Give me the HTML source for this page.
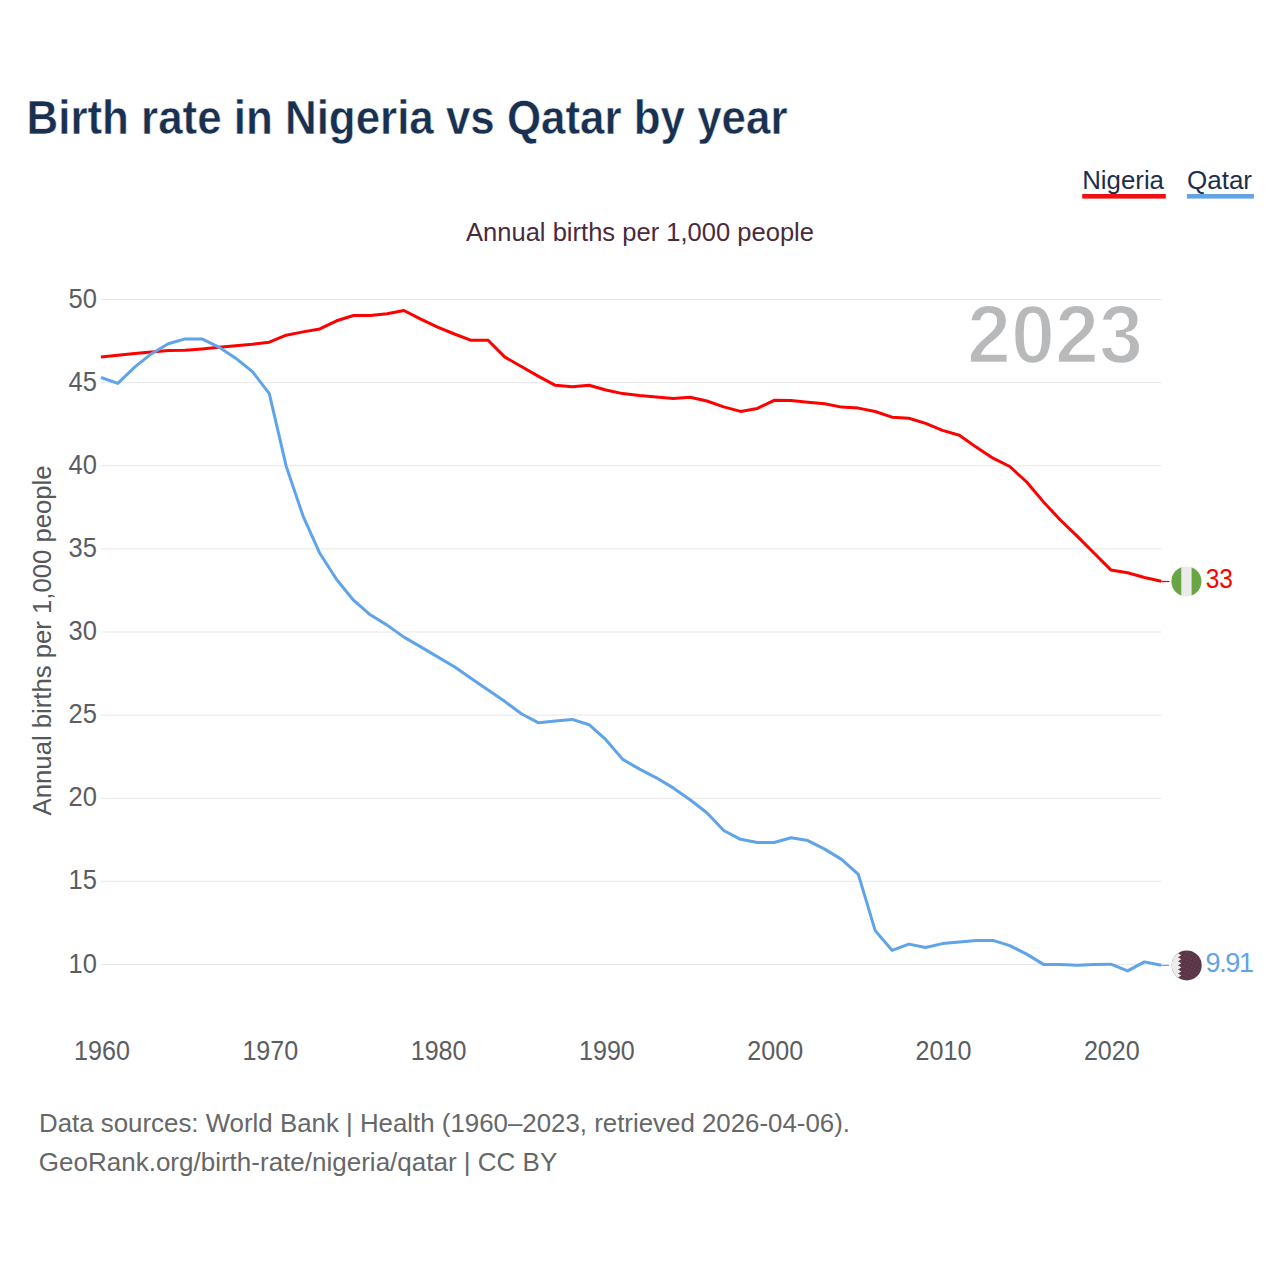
<!DOCTYPE html>
<html><head><meta charset="utf-8"><style>
html,body{margin:0;padding:0;background:#fff;}
body{width:1280px;height:1280px;overflow:hidden;position:relative;font-family:"Liberation Sans",sans-serif;}
svg{position:absolute;left:0;top:0;}
svg text{font-family:"Liberation Sans",sans-serif;}
</style></head><body>
<svg width="1280" height="1280" viewBox="0 0 1280 1280">
<defs>
<clipPath id="cq"><circle cx="1186.7" cy="965.4" r="15"/></clipPath>
<clipPath id="cn"><circle cx="1186.4" cy="581.4" r="15"/></clipPath>
<pattern id="dots" width="3.6" height="3.6" patternUnits="userSpaceOnUse" patternTransform="rotate(25)"><rect width="3.6" height="3.6" fill="#573646"/><circle cx="1.8" cy="1.8" r="0.55" fill="#a84a80"/></pattern>
</defs>
<text x="26.5" y="134.1" font-size="49" font-weight="bold" fill="#193150" stroke="#fff" stroke-width="0.5" textLength="761" lengthAdjust="spacingAndGlyphs" id="title">Birth rate in Nigeria vs Qatar by year</text>
<g font-size="26" fill="#1d2f4c">
<text x="1082.2" y="189" textLength="81.8" lengthAdjust="spacingAndGlyphs" id="lg1">Nigeria</text>
<text x="1187" y="189" id="lg2">Qatar</text>
</g>
<rect x="1082.2" y="194" width="83.6" height="4.6" fill="#f30f0f"/>
<rect x="1186.9" y="194" width="67" height="4.6" fill="#62a4e6"/>
<text x="466" y="240.9" font-size="26" fill="#4a2b3b" textLength="348" lengthAdjust="spacingAndGlyphs" id="sub">Annual births per 1,000 people</text>
<g stroke="#e7e7e7" stroke-width="1">
<line x1="101" x2="1161.4" y1="299.50" y2="299.50" />
<line x1="101" x2="1161.4" y1="382.62" y2="382.62" />
<line x1="101" x2="1161.4" y1="465.75" y2="465.75" />
<line x1="101" x2="1161.4" y1="548.88" y2="548.88" />
<line x1="101" x2="1161.4" y1="632.00" y2="632.00" />
<line x1="101" x2="1161.4" y1="715.12" y2="715.12" />
<line x1="101" x2="1161.4" y1="798.25" y2="798.25" />
<line x1="101" x2="1161.4" y1="881.38" y2="881.38" />
<line x1="101" x2="1161.4" y1="964.50" y2="964.50" />
</g>
<text x="967" y="363.4" font-size="83" font-weight="bold" fill="#b8b9bb" stroke="#fff" stroke-width="2.4" textLength="176" lengthAdjust="spacingAndGlyphs" id="yr">2023</text>
<g font-size="27" fill="#5a5d61" text-anchor="end">
<text x="97" y="307.50" textLength="28.4" lengthAdjust="spacingAndGlyphs">50</text>
<text x="97" y="390.62" textLength="28.4" lengthAdjust="spacingAndGlyphs">45</text>
<text x="97" y="473.75" textLength="28.4" lengthAdjust="spacingAndGlyphs">40</text>
<text x="97" y="556.88" textLength="28.4" lengthAdjust="spacingAndGlyphs">35</text>
<text x="97" y="640.00" textLength="28.4" lengthAdjust="spacingAndGlyphs">30</text>
<text x="97" y="723.12" textLength="28.4" lengthAdjust="spacingAndGlyphs">25</text>
<text x="97" y="806.25" textLength="28.4" lengthAdjust="spacingAndGlyphs">20</text>
<text x="97" y="889.38" textLength="28.4" lengthAdjust="spacingAndGlyphs">15</text>
<text x="97" y="972.50" textLength="28.4" lengthAdjust="spacingAndGlyphs">10</text>
</g>
<g font-size="27" fill="#5a5d61" text-anchor="middle">
<text x="102.00" y="1060.3" textLength="55.8" lengthAdjust="spacingAndGlyphs">1960</text>
<text x="270.30" y="1060.3" textLength="55.8" lengthAdjust="spacingAndGlyphs">1970</text>
<text x="438.60" y="1060.3" textLength="55.8" lengthAdjust="spacingAndGlyphs">1980</text>
<text x="606.90" y="1060.3" textLength="55.8" lengthAdjust="spacingAndGlyphs">1990</text>
<text x="775.20" y="1060.3" textLength="55.8" lengthAdjust="spacingAndGlyphs">2000</text>
<text x="943.50" y="1060.3" textLength="55.8" lengthAdjust="spacingAndGlyphs">2010</text>
<text x="1111.80" y="1060.3" textLength="55.8" lengthAdjust="spacingAndGlyphs">2020</text>
</g>
<text transform="translate(51,640.4) rotate(-90)" font-size="25.5" fill="#55575a" text-anchor="middle" textLength="350" lengthAdjust="spacingAndGlyphs" id="ytitle">Annual births per 1,000 people</text>
<polyline points="101.00,357.10 117.83,355.30 134.66,353.50 151.49,352.00 168.32,350.60 185.15,350.30 201.98,348.90 218.81,347.30 235.64,345.80 252.47,344.30 269.30,342.20 286.13,335.20 302.96,331.90 319.79,328.90 336.62,320.80 353.45,315.50 370.28,315.50 387.11,313.80 403.94,310.50 420.77,319.20 437.60,327.20 454.43,334.00 471.26,340.30 488.09,340.30 504.92,357.10 521.75,366.80 538.58,376.40 555.41,385.30 572.24,386.80 589.07,385.30 605.90,390.00 622.73,393.60 639.56,395.50 656.39,397.00 673.22,398.50 690.05,397.30 706.88,401.00 723.71,406.90 740.54,411.40 757.37,408.40 774.20,400.30 791.03,400.40 807.86,402.20 824.69,403.70 841.52,407.10 858.35,408.10 875.18,411.50 892.01,417.20 908.84,418.20 925.67,423.40 942.50,430.40 959.33,435.20 976.16,447.10 992.99,458.20 1009.82,466.50 1026.65,482.00 1043.48,501.90 1060.31,520.00 1077.14,536.10 1093.97,553.00 1110.80,569.90 1127.63,572.80 1144.46,577.50 1161.29,581.20" fill="none" stroke="#ff0000" stroke-width="3" stroke-linejoin="round"/>
<polyline points="101.00,377.50 117.83,383.40 134.66,367.10 151.49,353.70 168.32,343.70 185.15,338.90 201.98,338.90 218.81,347.10 235.64,358.20 252.47,371.60 269.30,393.60 286.13,465.90 302.96,515.80 319.79,553.30 336.62,579.50 353.45,600.20 370.28,614.80 387.11,625.10 403.94,637.10 420.77,646.90 437.60,656.90 454.43,666.80 471.26,678.40 488.09,690.00 504.92,701.60 521.75,714.00 538.58,722.80 555.41,720.90 572.24,719.40 589.07,724.70 605.90,739.70 622.73,759.40 639.56,769.10 656.39,777.80 673.22,787.90 690.05,799.70 706.88,812.80 723.71,830.50 740.54,839.30 757.37,842.50 774.20,842.50 791.03,837.80 807.86,840.60 824.69,849.10 841.52,859.40 858.35,874.40 875.18,930.60 892.01,950.30 908.84,944.10 925.67,947.50 942.50,943.60 959.33,941.90 976.16,940.40 992.99,940.40 1009.82,945.60 1026.65,954.10 1043.48,964.40 1060.31,964.40 1077.14,965.30 1093.97,964.40 1110.80,964.20 1127.63,970.90 1144.46,961.90 1161.29,965.30" fill="none" stroke="#5fa3e8" stroke-width="3" stroke-linejoin="round"/>
<line x1="1161.3" y1="581.5" x2="1169.5" y2="581.5" stroke="#ff0000" stroke-width="1.3"/>
<line x1="1161.3" y1="965.3" x2="1169" y2="965.3" stroke="#5fa3e8" stroke-width="1.3"/>
<g clip-path="url(#cn)">
<rect x="1171" y="565" width="32" height="33" fill="#ebebeb"/>
<rect x="1170" y="565" width="11.3" height="33" fill="#6aa545"/>
<rect x="1191.6" y="565" width="11" height="33" fill="#6aa545"/>
</g>
<g clip-path="url(#cq)">
<rect x="1171" y="949" width="32" height="34" fill="url(#dots)"/>
<path d="M1170,945 L1178,945 L1178,941.19 L1181.3,943.21 L1178,945.22 L1181.3,947.24 L1178,949.25 L1181.3,951.27 L1178,953.28 L1181.3,955.30 L1178,957.31 L1181.3,959.33 L1178,961.34 L1181.3,963.36 L1178,965.37 L1181.3,967.39 L1178,969.40 L1181.3,971.42 L1178,973.43 L1181.3,975.45 L1178,977.46 L1181.3,979.48 L1178,981.49 L1181.3,983.51 L1178,985.52 L1181.3,987.54 L1178,990 L1170,990 Z" fill="#ececec"/>
</g>
<text x="1205.7" y="588.2" font-size="27" fill="#ff0000" textLength="27.3" lengthAdjust="spacingAndGlyphs" id="v1">33</text>
<text x="1205.5" y="972.2" font-size="27" fill="#5fa3e8" textLength="48.5" lengthAdjust="spacing" id="v2">9.91</text>
<g font-size="26" fill="#666769">
<text x="39" y="1131.8" textLength="811" lengthAdjust="spacingAndGlyphs" id="f1">Data sources: World Bank | Health (1960–2023, retrieved 2026-04-06).</text>
<text x="38.8" y="1170.6" textLength="518.5" lengthAdjust="spacingAndGlyphs" id="f2">GeoRank.org/birth-rate/nigeria/qatar | CC BY</text>
</g>
</svg>
</body></html>
